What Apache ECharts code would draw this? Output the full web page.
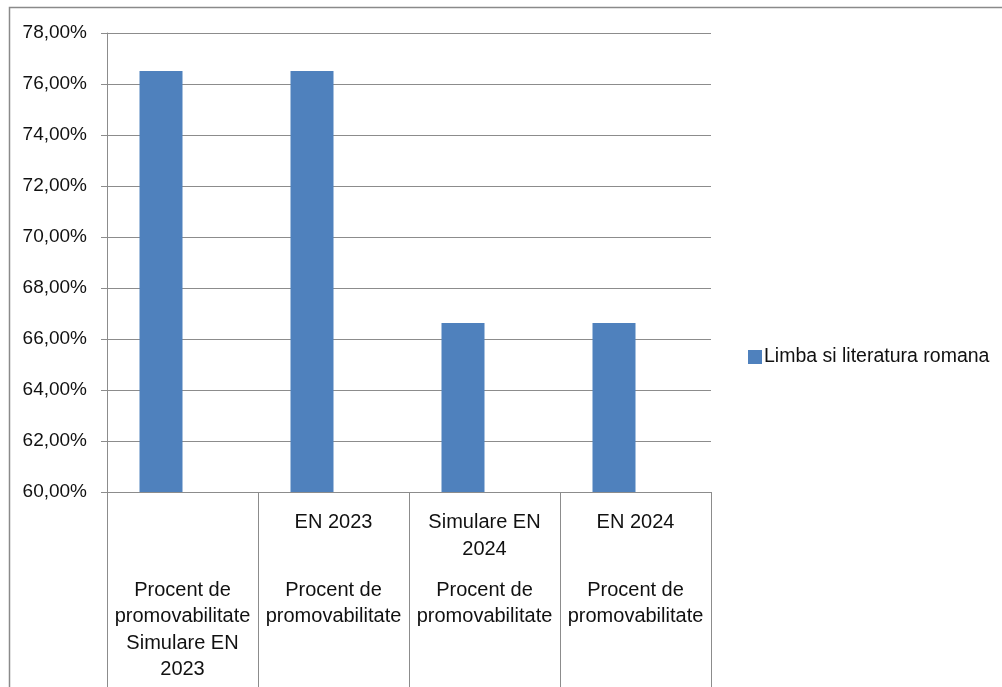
<!DOCTYPE html>
<html>
<head>
<meta charset="utf-8">
<script src="https://cdn.jsdelivr.net/npm/echarts@6/dist/echarts.min.js"></script>
<style>html,body{margin:0;padding:0;background:#fff;}#c{width:1002px;height:687px;}</style>
</head>
<body>
<div id="c"></div>
<script>
var innerLabels = ['', 'EN 2023', 'Simulare EN\n2024', 'EN 2024'];
var outerLabels = ['Procent de\npromovabilitate\nSimulare EN\n2023', 'Procent de\npromovabilitate', 'Procent de\npromovabilitate', 'Procent de\npromovabilitate'];
var seriesName = 'Limba si literatura romana';
var values = [76.51, 76.51, 66.63, 66.63];
var emptyValues = [null, null, null, null];
var yMin = 60, yMax = 78, yStep = 2;

var FONT = 'Liberation Sans';
var chart = echarts.init(document.getElementById('c'));
chart.setOption({
  animation: false,
  textStyle: { fontFamily: FONT },
  graphic: [{
    type: 'rect', silent: true, z: -1,
    shape: { x: 9.5, y: 7.5, width: 1200, height: 900 },
    style: { fill: 'none', stroke: '#8a8a8a', lineWidth: 1.5 }
  }],
  grid: { left: 107, top: 33, right: 291, bottom: 195 },
  legend: {
    data: [seriesName],
    orient: 'vertical',
    left: 743, top: 342,
    itemWidth: 14, itemHeight: 14, itemGap: 4,
    icon: 'rect',
    textStyle: { fontFamily: FONT, fontSize: 19.5, color: '#111', padding: [0, 0, 0, -3] }
  },
  xAxis: [{
    type: 'category',
    data: innerLabels,
    boundaryGap: true,
    axisLine: { show: true, lineStyle: { color: '#8c8c8c', width: 1 } },
    axisTick: { show: true, length: 200, interval: 0, lineStyle: { color: '#8c8c8c' } },
    axisLabel: { interval: 0, margin: 17, verticalAlign: 'top', lineHeight: 27, fontSize: 20, color: '#111', fontFamily: FONT }
  }, {
    type: 'category',
    data: outerLabels,
    position: 'bottom',
    boundaryGap: true,
    axisLine: { show: false },
    axisTick: { show: false },
    axisLabel: { interval: 0, margin: 85, verticalAlign: 'top', lineHeight: 26.5, fontSize: 20, color: '#111', fontFamily: FONT }
  }],
  yAxis: {
    type: 'value',
    min: yMin, max: yMax, interval: yStep,
    axisLine: { show: true, lineStyle: { color: '#8c8c8c' } },
    axisTick: { show: true, length: 6, lineStyle: { color: '#8c8c8c' } },
    splitLine: { show: true, lineStyle: { color: '#8c8c8c', width: 1 } },
    axisLabel: {
      margin: 20, fontSize: 19, color: '#111', fontFamily: FONT,
      formatter: function (v) { return v.toFixed(2).replace('.', ',') + '%'; }
    }
  },
  series: [{
    name: seriesName,
    type: 'bar',
    data: values,
    barWidth: 43,
    barGap: '0%',
    itemStyle: { color: '#4F81BD' }
  }, {
    name: 'empty',
    type: 'bar',
    data: emptyValues,
    barWidth: 43,
    barGap: '0%',
    itemStyle: { color: '#C0504D' }
  }]
});
</script>
</body>
</html>
